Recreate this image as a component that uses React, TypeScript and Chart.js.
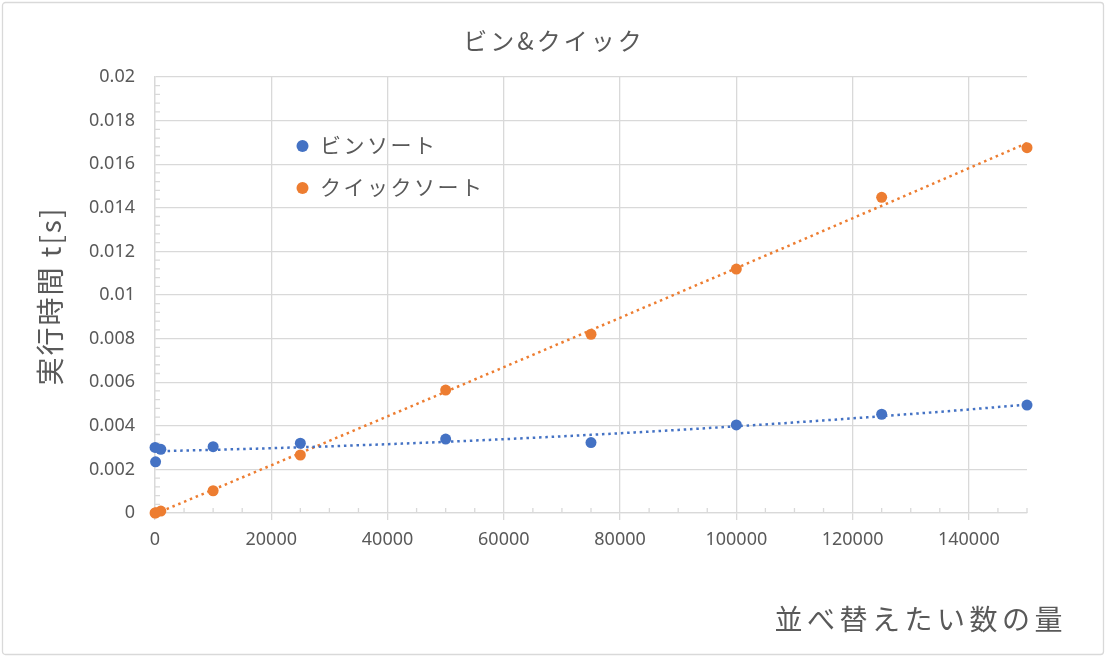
import { useEffect, useRef } from "react";
import { Chart, registerables } from "chart.js";

Chart.register(...registerables);

// 並べ替える数 (x)
const sizes = [10, 100, 1000, 10000, 25000, 50000, 75000, 100000, 125000, 150000];
// ビンソート 実行時間 [s]
const binTimes = [0.00301, 0.00235, 0.00292, 0.00304, 0.0032, 0.00339, 0.00323, 0.00404, 0.00453, 0.00495];
// クイックソート 実行時間 [s]
const quickTimes = [0.0, 0.00001, 0.00009, 0.00102, 0.00266, 0.00564, 0.0082, 0.01119, 0.01448, 0.01676];
// 近似曲線 (2次多項式) を引く範囲
const trendRange = [0, 150000];

const seriesNames = ["ビンソート", "クイックソート"];
const chartTitle = "ビン&クイック";
const yTitle = "実行時間 t[s]";
const xTitle = "並べ替えたい数の量";

const BLUE = "#4472C4";
const ORANGE = "#ED7D31";
const GRID = "#d9d9d9";
const TEXT = "#595959";
const JP = '"Noto Sans CJK JP", "Noto Sans", sans-serif';

const X_MAJOR = 20000;
const X_MINOR = 5000;
const Y_MAJOR = 0.002;
const Y_MINOR = 0.0004;

const isMajor = (v: number, minor: number, major: number) =>
  Math.round(v / minor) % Math.round(major / minor) === 0;

// least squares fit y = a + b x + c x^2 (x scaled to avoid big numbers)
function polyFit2(xs: number[], ys: number[]) {
  const k = 1e4;
  let s0 = 0, s1 = 0, s2 = 0, s3 = 0, s4 = 0, t0 = 0, t1 = 0, t2 = 0;
  xs.forEach((xr, i) => {
    const x = xr / k;
    const y = ys[i];
    s0 += 1; s1 += x; s2 += x * x; s3 += x * x * x; s4 += x * x * x * x;
    t0 += y; t1 += x * y; t2 += x * x * y;
  });
  const det3 = (m: number[][]) =>
    m[0][0] * (m[1][1] * m[2][2] - m[1][2] * m[2][1]) -
    m[0][1] * (m[1][0] * m[2][2] - m[1][2] * m[2][0]) +
    m[0][2] * (m[1][0] * m[2][1] - m[1][1] * m[2][0]);
  const M = [[s0, s1, s2], [s1, s2, s3], [s2, s3, s4]];
  const T = [t0, t1, t2];
  const D = det3(M);
  const col = (j: number) => M.map((row, r) => row.map((v, c) => (c === j ? T[r] : v)));
  const a = det3(col(0)) / D;
  const b = det3(col(1)) / D;
  const c = det3(col(2)) / D;
  return (xr: number) => {
    const x = xr / k;
    return a + b * x + c * x * x;
  };
}

function trendPoints(ys: number[]) {
  const f = polyFit2(sizes, ys);
  const pts = [];
  const n = 60;
  for (let i = 0; i <= n; i++) {
    const x = trendRange[0] + ((trendRange[1] - trendRange[0]) * i) / n;
    pts.push({ x, y: f(x) });
  }
  return pts;
}

const decor = {
  id: "decor",
  beforeDatasetsDraw(chart: any) {
    const { ctx, chartArea, scales } = chart;
    const x = scales.x;
    const y = scales.y;
    ctx.save();
    ctx.strokeStyle = GRID;
    ctx.lineWidth = 1.3;
    ctx.beginPath();
    for (let v = 0; v <= 150000; v += X_MINOR) {
      if (isMajor(v, X_MINOR, X_MAJOR)) continue;
      const px = x.getPixelForValue(v);
      ctx.moveTo(px, chartArea.bottom);
      ctx.lineTo(px, chartArea.bottom - 5);
    }
    for (let i = 0; i <= 50; i++) {
      const v = i * Y_MINOR;
      if (isMajor(v, Y_MINOR, Y_MAJOR)) continue;
      const py = y.getPixelForValue(v);
      ctx.moveTo(chartArea.left, py);
      ctx.lineTo(chartArea.left + 5, py);
    }
    ctx.stroke();
    ctx.restore();
  },
  afterDraw(chart: any) {
    const { ctx, width, height } = chart;
    ctx.save();

    // outer frame
    ctx.strokeStyle = GRID;
    ctx.lineWidth = 1.3;
    ctx.beginPath();
    ctx.roundRect(2.5, 2.5, width - 5, height - 4, 3);
    ctx.stroke();

    ctx.fillStyle = TEXT;
    ctx.textBaseline = "middle";

    // title
    ctx.font = `24px ${JP}`;
    ctx.letterSpacing = "3px";
    ctx.textAlign = "center";
    ctx.fillText(chartTitle, width / 2 + 1, 41);

    // x axis title
    ctx.font = `28px ${JP}`;
    ctx.letterSpacing = "4.5px";
    ctx.textAlign = "right";
    ctx.fillText(xTitle, 1067, 619);

    // y axis title
    ctx.save();
    ctx.translate(50, 296);
    ctx.rotate(-Math.PI / 2);
    ctx.font = `28px ${JP}`;
    ctx.letterSpacing = "2px";
    ctx.textAlign = "center";
    ctx.fillText(yTitle, 0, 0);
    ctx.restore();

    // legend inside plot
    const colors = [BLUE, ORANGE];
    const rows = [146, 188];
    ctx.font = `21px ${JP}`;
    ctx.letterSpacing = "2.5px";
    ctx.textAlign = "left";
    seriesNames.forEach((name, i) => {
      ctx.fillStyle = colors[i];
      ctx.beginPath();
      ctx.arc(302.5, rows[i], 6, 0, Math.PI * 2);
      ctx.fill();
      ctx.fillStyle = TEXT;
      ctx.fillText(name, 320, rows[i] - 1);
    });

    ctx.restore();
  },
};

export default function App() {
  const chartRef = useRef<HTMLCanvasElement | null>(null);

  useEffect(() => {
    document.body.style.margin = "0";
    if (!chartRef.current) return;

    const points = (ys: number[]) => sizes.map((s, i) => ({ x: s, y: ys[i] }));

    const chart = new Chart(chartRef.current, {
      type: "scatter",
      data: {
        datasets: [
          {
            label: seriesNames[0] + " 近似",
            data: trendPoints(binTimes),
            showLine: true,
            borderColor: BLUE,
            borderWidth: 2.5,
            borderDash: [2.5, 3.8],
            pointRadius: 0,
            clip: false,
            order: 2,
          },
          {
            label: seriesNames[1] + " 近似",
            data: trendPoints(quickTimes),
            showLine: true,
            borderColor: ORANGE,
            borderWidth: 2.5,
            borderDash: [2.5, 3.8],
            pointRadius: 0,
            clip: false,
            order: 2,
          },
          {
            label: seriesNames[0],
            data: points(binTimes),
            backgroundColor: BLUE,
            borderColor: BLUE,
            borderWidth: 0,
            pointRadius: 5.5,
            clip: false,
            order: 1,
          },
          {
            label: seriesNames[1],
            data: points(quickTimes),
            backgroundColor: ORANGE,
            borderColor: ORANGE,
            borderWidth: 0,
            pointRadius: 5.5,
            clip: false,
            order: 1,
          },
        ],
      },
      options: {
        responsive: true,
        maintainAspectRatio: false,
        animation: false,
        layout: { padding: { top: 77, right: 79, left: 0, bottom: 0 } },
        plugins: {
          legend: { display: false },
          title: { display: false },
          tooltip: { enabled: false },
        },
        scales: {
          x: {
            type: "linear",
            min: 0,
            max: 150000,
            afterFit: (scale: any) => {
              scale.height = 143;
            },
            ticks: {
              stepSize: X_MINOR,
              autoSkip: false,
              maxRotation: 0,
              includeBounds: false,
              padding: 9,
              color: TEXT,
              font: { family: '"Noto Sans", sans-serif', size: 18 },
              callback: (v: any) => (isMajor(Number(v), X_MINOR, X_MAJOR) ? String(v) : ""),
            },
            grid: {
              color: (c: any) => (isMajor(c.tick.value, X_MINOR, X_MAJOR) ? GRID : "transparent"),
              tickColor: (c: any) => (isMajor(c.tick.value, X_MINOR, X_MAJOR) ? GRID : "transparent"),
              lineWidth: 1.3,
              tickLength: 7,
            },
            border: { color: GRID, width: 1.3 },
          },
          y: {
            type: "linear",
            min: 0,
            max: 0.02,
            afterFit: (scale: any) => {
              scale.width = 155;
            },
            ticks: {
              stepSize: Y_MINOR,
              autoSkip: false,
              padding: 20,
              color: TEXT,
              font: { family: '"Noto Sans", sans-serif', size: 18 },
              callback: (v: any) =>
                isMajor(Number(v), Y_MINOR, Y_MAJOR) ? String(parseFloat(Number(v).toFixed(4))) : "",
            },
            grid: {
              color: (c: any) => (isMajor(c.tick.value, Y_MINOR, Y_MAJOR) ? GRID : "transparent"),
              lineWidth: 1.3,
              drawTicks: false,
            },
            border: { color: GRID, width: 1.3 },
          },
        },
      },
      plugins: [decor],
    });

    return () => {
      chart.destroy();
    };
  }, []);

  return (
    <div style={{ width: 1106, height: 656, position: "relative", background: "#fff" }}>
      <canvas ref={chartRef} />
    </div>
  );
}
